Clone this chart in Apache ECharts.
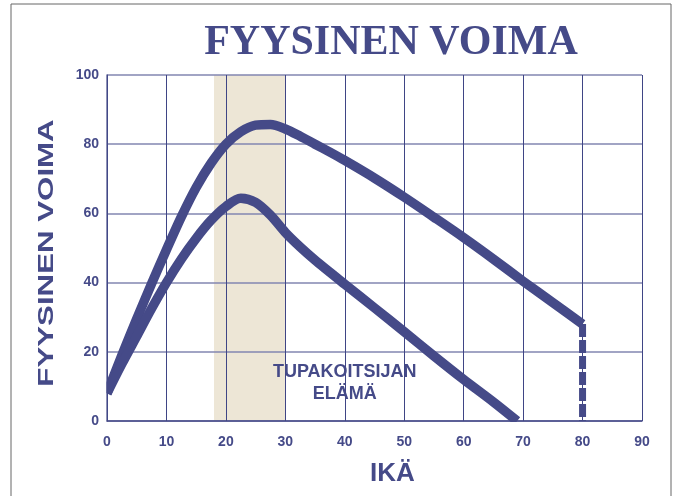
<!DOCTYPE html>
<html>
<head>
<meta charset="utf-8">
<script src="https://cdn.jsdelivr.net/npm/echarts@6/dist/echarts.min.js"></script>
<style>
  html, body { margin: 0; padding: 0; background: #fff; }
  #chart { width: 675px; height: 496px; }
</style>
</head>
<body>
<div id="chart"></div>
<script>
// ikä (x) ja fyysinen voima (y), luettu kuvasta
const normalAge   = [0, 2.5, 5, 7.5, 10, 12.5, 15, 17.5, 20, 22.5, 25, 27.5, 30, 32.5, 35, 37.5, 40, 45, 50, 55, 60, 65, 70, 75, 80];
const normalPower = [8, 19, 29.5, 39.7, 49.5, 59, 67.5, 74.5, 80, 83.6, 85.5, 85.7, 84.4, 82.3, 80, 77.7, 75.3, 70.2, 64.7, 58.9, 53, 46.8, 40.4, 34.2, 28];

const smokerAge   = [0, 2.5, 5, 7.5, 10, 12.5, 15, 17.5, 20, 22.5, 25, 27.5, 30, 32.5, 35, 37.5, 40, 45, 50, 55, 60, 65, 69];
const smokerPower = [8, 16.5, 24.5, 32.5, 40, 46.8, 52.8, 58, 62, 64.4, 63.2, 59.5, 54.5, 50.3, 46.5, 43, 39.5, 32.7, 25.8, 18.8, 12, 5.5, 0];

const dropAge   = [80, 80];
const dropPower = [28, 0];

const smokerBand  = [18, 30];
const bandLabel   = ['TUPAKOITSIJAN', 'ELÄMÄ'];
const bandLabelAt = [40, 11];

const blue = '#454a88';
const pairs = (xs, ys) => xs.map((x, i) => [x, ys[i]]);

// kuvaajan reunat
const G = { left: 107, right: 33, top: 75, bottom: 75 };

const chart = echarts.init(document.getElementById('chart'));

chart.setOption({
  backgroundColor: '#fff',
  animation: false,
  title: {
    text: 'FYYSINEN VOIMA',
    left: 386,
    top: 17,
    textAlign: 'center',
    textStyle: {
      fontFamily: 'Liberation Serif',
      fontWeight: 'bold',
      fontSize: 42,
      color: blue
    }
  },
  grid: G,
  xAxis: {
    type: 'value',
    min: 0,
    max: 90,
    interval: 10,
    name: 'IKÄ',
    nameLocation: 'middle',
    nameGap: 40,
    nameTextStyle: {
      color: blue, fontFamily: 'Liberation Sans', fontWeight: 'bold', fontSize: 26,
      padding: [0, 0, 0, 36]
    },
    axisLine: { show: true, lineStyle: { color: blue, width: 1.5 } },
    axisTick: { show: false },
    axisLabel: { color: blue, fontFamily: 'Liberation Sans', fontWeight: 'bold', fontSize: 14, margin: 14 },
    splitLine: { show: true, lineStyle: { color: '#3f4585', width: 1 } }
  },
  yAxis: {
    type: 'value',
    min: 0,
    max: 100,
    interval: 20,
    axisLine: { show: true, lineStyle: { color: blue, width: 1.5 } },
    axisTick: { show: false },
    axisLabel: { color: blue, fontFamily: 'Liberation Sans', fontWeight: 'bold', fontSize: 14, margin: 8 },
    splitLine: { show: true, lineStyle: { color: '#8286b0', width: 1.5 } }
  },
  graphic: [
    {
      type: 'rect',
      shape: { x: 11, y: 4, width: 660, height: 520 },
      style: { fill: 'none', stroke: '#666', lineWidth: 1 },
      z: -10
    },
    // viivat leikataan akseleihin kuten alkuperäisessä
    {
      type: 'rect',
      shape: { x: G.left - 5, y: G.top - 10, width: 4.2, height: 496 - G.top - G.bottom + 20 },
      style: { fill: '#fff' },
      z: 100
    },
    {
      type: 'rect',
      shape: { x: G.left - 5, y: 496 - G.bottom + 1, width: 675 - G.left - G.right + 10, height: 6 },
      style: { fill: '#fff' },
      z: 100
    },
    {
      type: 'text',
      x: 47,
      y: 253,
      rotation: Math.PI / 2,
      scaleX: 1.42,
      style: {
        text: 'FYYSINEN VOIMA',
        font: 'bold 22px "Liberation Sans"',
        fill: blue,
        align: 'center',
        verticalAlign: 'middle'
      }
    }
  ],
  series: [
    {
      // tupakoitsijan elämä -kaista
      type: 'line',
      data: [],
      silent: true,
      markArea: {
        z: -1,
        silent: true,
        itemStyle: { color: '#ede6d6' },
        data: [[{ xAxis: smokerBand[0] }, { xAxis: smokerBand[1] }]]
      }
    },
    {
      type: 'line',
      data: pairs(normalAge, normalPower),
      smooth: 0.3,
      showSymbol: false,
      lineStyle: { color: blue, width: 9.5, cap: 'butt', join: 'round' }
    },
    {
      type: 'line',
      data: pairs(smokerAge, smokerPower),
      smooth: 0.3,
      showSymbol: false,
      lineStyle: { color: blue, width: 9.5, cap: 'butt', join: 'round' },
      markPoint: {
        symbol: 'circle',
        symbolSize: 0,
        silent: true,
        label: {
          show: true,
          position: 'inside',
          formatter: bandLabel.join('\n'),
          color: blue,
          fontFamily: 'Liberation Sans',
          fontWeight: 'bold',
          fontSize: 18,
          lineHeight: 22,
          align: 'center'
        },
        data: [{ coord: bandLabelAt }]
      }
    },
    {
      type: 'line',
      data: pairs(dropAge, dropPower),
      showSymbol: false,
      lineStyle: { color: blue, width: 7, type: [13, 3], cap: 'butt' }
    }
  ]
});
</script>
</body>
</html>
